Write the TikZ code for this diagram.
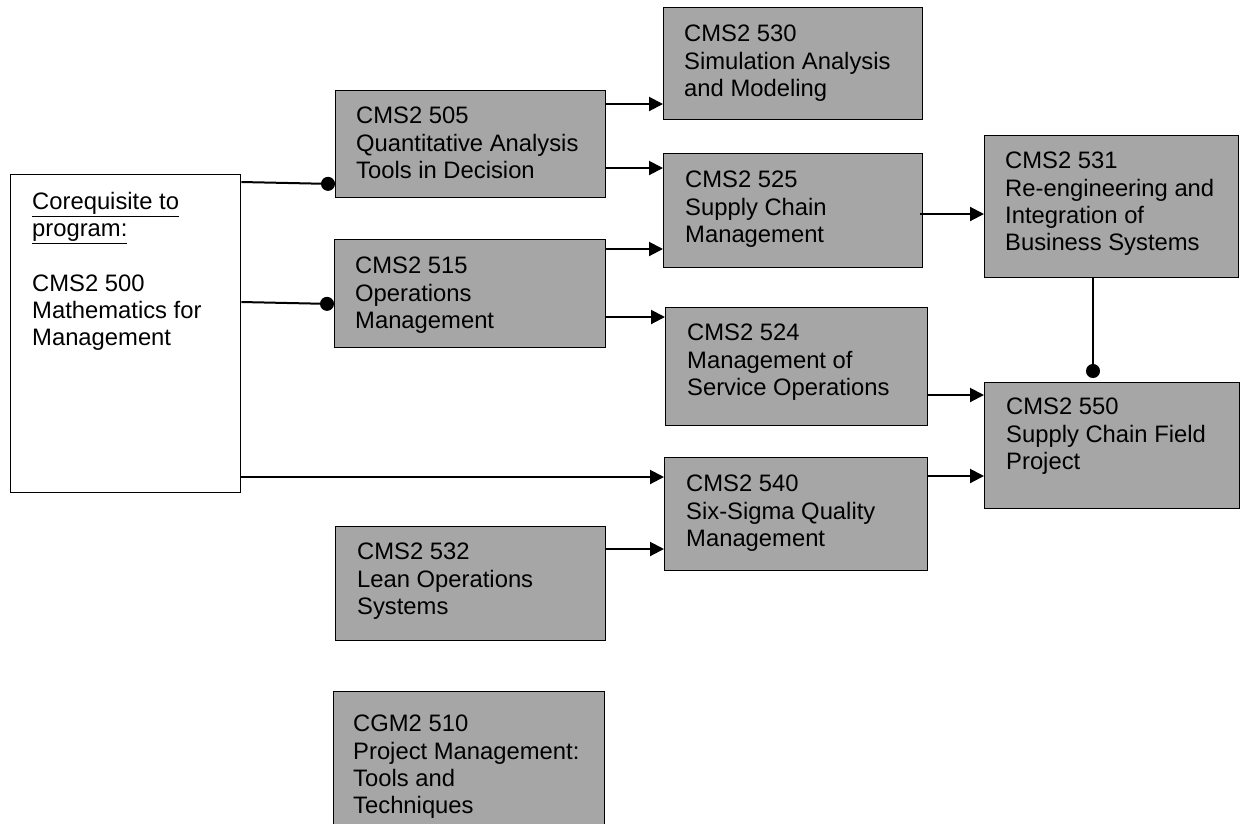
\documentclass[tikz,border=0pt]{standalone}
\usepackage{fontspec}
\setmainfont{Liberation Sans}
\usetikzlibrary{arrows.meta,calc}
\definecolor{boxgray}{HTML}{A6A6A6}
\begin{document}
\begin{tikzpicture}[x=1pt,y=-1pt,
  course/.style={draw=black,line width=1.3pt,fill=boxgray,inner sep=0pt,anchor=north west},
  coreqbox/.style={draw=black,line width=1.3pt,fill=white,inner sep=0pt,anchor=north west},
  label/.style={anchor=north west,inner sep=0pt,align=left,font=\fontsize{23.8}{27.3}\selectfont},
  arr/.style={line width=2pt,-{Triangle[length=14pt,width=14pt]}},
  dotarr/.style={line width=2pt,-{Circle[length=14pt]}}]
\useasboundingbox (0,0) rectangle (1241,823);
\clip (0,0) rectangle (1241,823);
% boxes
\node[coreqbox,minimum width=230pt,minimum height=318pt] (coreq) at (10,174) {};
\node[course,minimum width=270pt,minimum height=107pt] (b505) at (335,90) {};
\node[course,minimum width=271pt,minimum height=108pt] (b515) at (334,239) {};
\node[course,minimum width=259pt,minimum height=112pt] (b530) at (663,7) {};
\node[course,minimum width=259pt,minimum height=114pt] (b525) at (663,153) {};
\node[course,minimum width=262pt,minimum height=118pt] (b524) at (665,307) {};
\node[course,minimum width=254pt,minimum height=142pt] (b531) at (984,135) {};
\node[course,minimum width=255pt,minimum height=126pt] (b550) at (984,382) {};
\node[course,minimum width=263pt,minimum height=113pt] (b540) at (664,457) {};
\node[course,minimum width=270pt,minimum height=114pt] (b532) at (335,526) {};
\node[course,minimum width=271pt,minimum height=150pt] (b510) at (333,691) {};
% labels
\node[label] (tcoreq) at ($(coreq.north west)+(22,18)$) {\underline{Corequisite to}\\\underline{program:}\\[27.3pt]CMS2 500\\Mathematics for\\Management};
\node[label] (t505) at ($(b505.north west)+(21,17)$) {CMS2 505\\Quantitative Analysis\\Tools in Decision};
\node[label] (t515) at ($(b515.north west)+(21,18)$) {CMS2 515\\Operations\\Management};
\node[label] (t530) at ($(b530.north west)+(21,18)$) {CMS2 530\\Simulation Analysis\\and Modeling};
\node[label] (t525) at ($(b525.north west)+(22,18)$) {CMS2 525\\Supply Chain\\Management};
\node[label] (t524) at ($(b524.north west)+(22,17)$) {CMS2 524\\Management of\\Service Operations};
\node[label] (t531) at ($(b531.north west)+(21,17)$) {CMS2 531\\Re-engineering and\\Integration of\\Business Systems};
\node[label] (t550) at ($(b550.north west)+(22,16)$) {CMS2 550\\Supply Chain Field\\Project};
\node[label] (t540) at ($(b540.north west)+(22,18)$) {CMS2 540\\Six-Sigma Quality\\Management};
\node[label] (t532) at ($(b532.north west)+(22,17)$) {CMS2 532\\Lean Operations\\Systems};
\node[label] (t510) at ($(b510.north west)+(20,24)$) {CGM2 510\\Project Management:\\Tools and\\Techniques};
% connectors
\draw[dotarr] (coreq.east |- 0,182) -- (b505.west |- 0,184);
\draw[dotarr] (coreq.east |- 0,302) -- (b515.west |- 0,304);
\draw[arr] (coreq.east |- 0,477) -- (b540.west |- 0,477);
\draw[arr] (b505.east |- 0,104) -- (b530.west |- 0,104);
\draw[arr] (b505.east |- 0,168) -- (b525.west |- 0,168);
\draw[arr] (b515.east |- 0,249) -- (b525.west |- 0,249);
\draw[arr] (b515.east |- 0,317) -- (b524.west |- 0,317);
\draw[arr] ($(b525.east |- 0,214)+(-3,0)$) -- (b531.west |- 0,214);
\draw[dotarr,shorten >=4pt] (b531.south -| 1093,0) -- (b550.north -| 1093,0);
\draw[arr] (b524.east |- 0,395) -- (b550.west |- 0,395);
\draw[arr] (b540.east |- 0,476) -- (b550.west |- 0,476);
\draw[arr] (b532.east |- 0,549) -- (b540.west |- 0,549);
\end{tikzpicture}
\end{document}
